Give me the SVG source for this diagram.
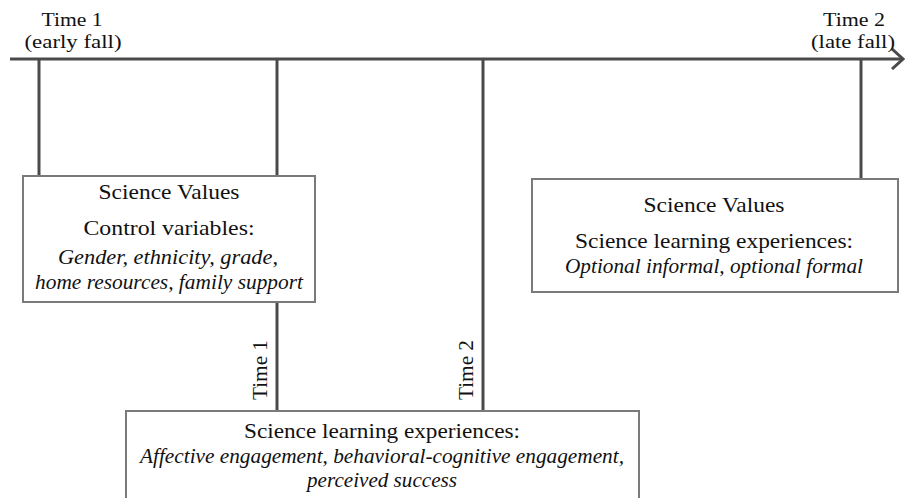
<svg xmlns="http://www.w3.org/2000/svg" width="908" height="498" viewBox="0 0 908 498">
  <defs>
    <style>
      .axis { stroke: #4a4a4a; stroke-width: 3; fill: none; }
      .box { fill: #ffffff; stroke: #7a7a7a; stroke-width: 2; }
      .t { font-family: "Liberation Serif", "DejaVu Serif", serif; font-size: 21.5px; fill: #111; }
      .s { font-size: 19.5px; }
      .i { font-style: italic; }
      .m { text-anchor: middle; }
    </style>
    <marker id="chevron" viewBox="0 0 14 22" refX="12" refY="11" markerWidth="14" markerHeight="22" markerUnits="userSpaceOnUse" orient="auto">
      <path d="M1,1 L12,11 L1,21" fill="none" stroke="#4a4a4a" stroke-width="3"/>
    </marker>
  </defs>
  <rect width="908" height="498" fill="#ffffff"/>

  <!-- timeline and measurement links -->
  <g id="connectors">
    <line class="axis" x1="10" y1="59" x2="903" y2="59" marker-end="url(#chevron)"/>
    <line class="axis" x1="39" y1="59" x2="39" y2="177"/>
    <line class="axis" x1="277" y1="59" x2="277" y2="177"/>
    <line class="axis" x1="277" y1="302" x2="277" y2="411"/>
    <line class="axis" x1="483" y1="59" x2="483" y2="411"/>
    <line class="axis" x1="861" y1="59" x2="861" y2="179"/>
    <text class="t m" transform="translate(267,370) rotate(-90)" textLength="60" lengthAdjust="spacingAndGlyphs">Time 1</text>
    <text class="t m" transform="translate(473,370) rotate(-90)" textLength="60" lengthAdjust="spacingAndGlyphs">Time 2</text>
  </g>

  <g id="time1-label">
    <text class="t s m" x="72" y="26" textLength="61" lengthAdjust="spacingAndGlyphs">Time 1</text>
    <text class="t s m" x="73" y="48" textLength="97" lengthAdjust="spacingAndGlyphs">(early fall)</text>
  </g>

  <g id="time2-label">
    <text class="t s m" x="854" y="26" textLength="62" lengthAdjust="spacingAndGlyphs">Time 2</text>
    <text class="t s m" x="853" y="48" textLength="84" lengthAdjust="spacingAndGlyphs">(late fall)</text>
  </g>

  <g id="values-time1">
    <rect class="box" x="23" y="176" width="292" height="126"/>
    <text class="t m" x="169" y="199" textLength="141" lengthAdjust="spacingAndGlyphs">Science Values</text>
    <text class="t m" x="169" y="235" textLength="171" lengthAdjust="spacingAndGlyphs">Control variables:</text>
    <text class="t i m" x="168" y="264" textLength="220" lengthAdjust="spacingAndGlyphs">Gender, ethnicity, grade,</text>
    <text class="t i m" x="169" y="289" textLength="268" lengthAdjust="spacingAndGlyphs">home resources, family support</text>
  </g>

  <g id="values-time2">
    <rect class="box" x="532" y="179" width="366" height="113"/>
    <text class="t m" x="714" y="212" textLength="141" lengthAdjust="spacingAndGlyphs">Science Values</text>
    <text class="t m" x="714" y="248" textLength="278" lengthAdjust="spacingAndGlyphs">Science learning experiences:</text>
    <text class="t i m" x="714" y="273" textLength="298" lengthAdjust="spacingAndGlyphs">Optional informal, optional formal</text>
  </g>

  <g id="learning-experiences">
    <rect class="box" x="126" y="411" width="513" height="100"/>
    <text class="t m" x="382" y="438" textLength="276" lengthAdjust="spacingAndGlyphs">Science learning experiences:</text>
    <text class="t i m" x="382" y="463" textLength="484" lengthAdjust="spacingAndGlyphs">Affective engagement, behavioral-cognitive engagement,</text>
    <text class="t i m" x="382" y="487" textLength="150" lengthAdjust="spacingAndGlyphs">perceived success</text>
  </g>
</svg>
